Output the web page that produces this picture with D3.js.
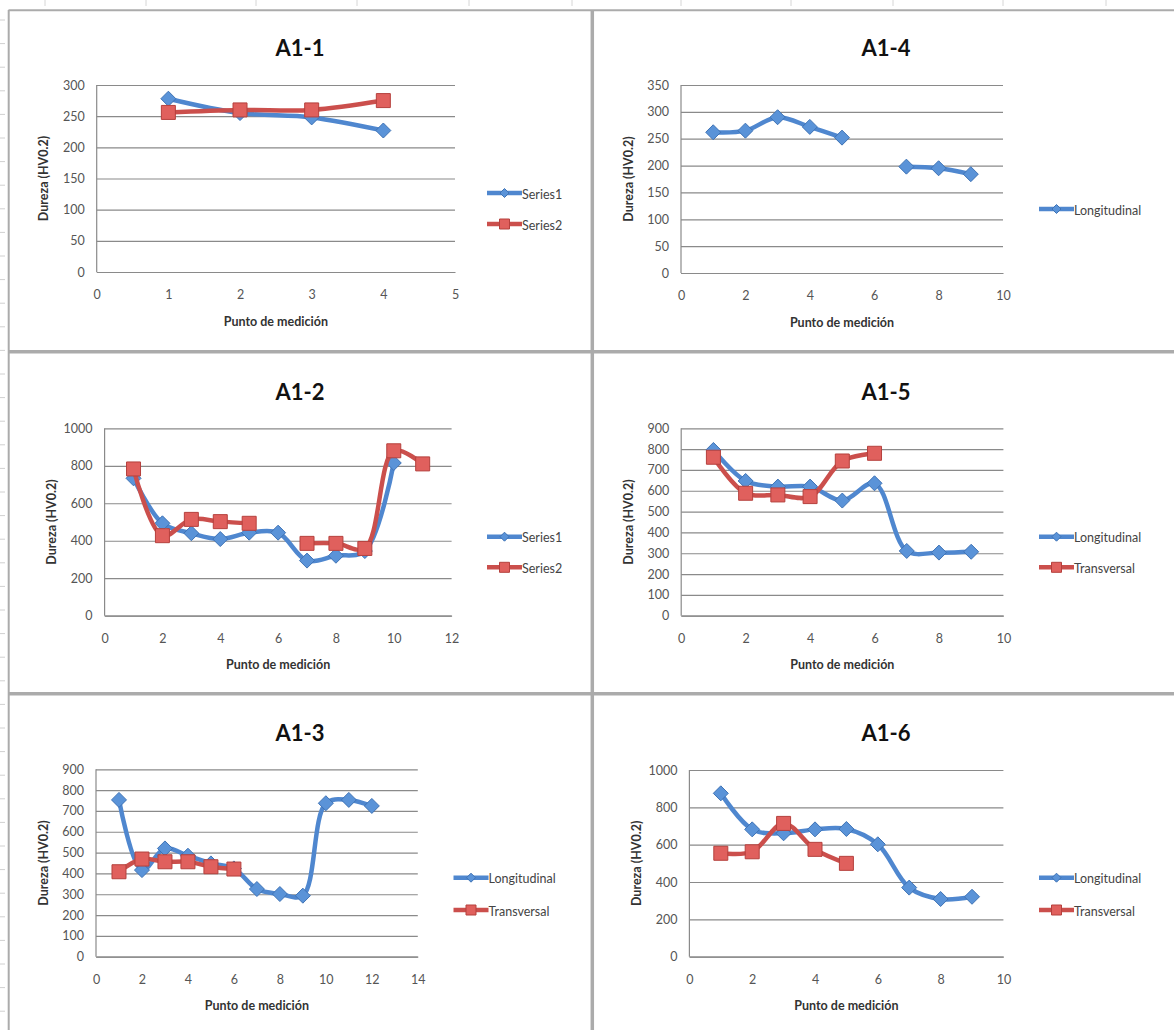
<!DOCTYPE html>
<html>
<head>
<meta charset="utf-8">
<script src="https://cdn.jsdelivr.net/npm/d3@7"></script>
<style>
  html, body { margin: 0; padding: 0; background: #fff; }
  svg { display: block; font-family: Lato, "Open Sans", sans-serif; }
</style>
</head>
<body>
<svg id="chart" width="1174" height="1030"></svg>
<script>
// ---------------- DATA ----------------
const chartTitles = ["A1-1", "A1-4", "A1-2", "A1-5", "A1-3", "A1-6"];
const xAxisTitle = "Punto de medición";
const yAxisTitle = "Dureza (HV0.2)";
const namesSeries = ["Series1", "Series2"];
const namesDir = ["Longitudinal", "Transversal"];

const a11Points = [1, 2, 3, 4];
const a11Series1 = [278, 255, 248, 227];
const a11Series2 = [256, 260, 260, 275];

const a12Points = [1, 2, 3, 4, 5, 6, 7, 8, 9, 10, 11];
const a12Series1 = [733, 493, 440, 409, 443, 443, 294, 320, 345, 815, null];
const a12Series2 = [783, 427, 514, 502, 493, null, 386, 386, 359, 880, 810];

const a13Points = [1, 2, 3, 4, 5, 6, 7, 8, 9, 10, 11, 12];
const a13Longitudinal = [753, 416, 520, 485, 448, 424, 325, 301, 293, 737, 753, 724];
const a13Transversal = [408, 469, 456, 456, 432, 421];

const a14Points = [1, 2, 3, 4, 5, 6, 7, 8, 9];
const a14Longitudinal = [262, 265, 290, 272, 252, null, 198, 195, 184];

const a15Points = [1, 2, 3, 4, 5, 6, 7, 8, 9];
const a15Longitudinal = [796, 647, 620, 620, 553, 636, 311, 303, 307];
const a15Transversal = [761, 588, 580, 572, 743, 780];

const a16Points = [1, 2, 3, 4, 5, 6, 7, 8, 9];
const a16Longitudinal = [875, 682, 661, 682, 684, 602, 370, 309, 321];
const a16Transversal = [554, 562, 714, 575, 500];

// axis ranges / tick steps
const xMaxes = [5, 10, 12, 10, 14, 10];
const xSteps = [1, 2, 2, 2, 2, 2];
const yMaxes = [300, 350, 1000, 900, 900, 1000];
const ySteps = [50, 50, 200, 100, 100, 200];

// ---------------- LAYOUT ----------------
const layouts = [
  { x0: 96.7, x1: 455, yTop: 85, yBot: 272, titleX: 300, titleY: 47, legX: 487, legY: [193, 224] },
  { x0: 681, x1: 1003, yTop: 85, yBot: 273, titleX: 886, titleY: 47, legX: 1039, legY: [209] },
  { x0: 104.6, x1: 451.6, yTop: 428.3, yBot: 615.7, titleX: 300, titleY: 391.7, legX: 487, legY: [536.7, 567.3] },
  { x0: 681.2, x1: 1003.4, yTop: 428.3, yBot: 615.7, titleX: 886, titleY: 391.7, legX: 1039, legY: [536.7, 567.3] },
  { x0: 96, x1: 417.8, yTop: 769.3, yBot: 956.7, titleX: 300, titleY: 732.7, legX: 453.5, legY: [877.7, 910] },
  { x0: 689.4, x1: 1003.4, yTop: 770, yBot: 956.7, titleX: 886, titleY: 732.7, legX: 1039, legY: [877.7, 910] }
];

const panels = [
  { points: a11Points, series: [a11Series1, a11Series2], names: namesSeries },
  { points: a14Points, series: [a14Longitudinal], names: [namesDir[0]] },
  { points: a12Points, series: [a12Series1, a12Series2], names: namesSeries },
  { points: a15Points, series: [a15Longitudinal, a15Transversal], names: namesDir },
  { points: a13Points, series: [a13Longitudinal, a13Transversal], names: namesDir },
  { points: a16Points, series: [a16Longitudinal, a16Transversal], names: namesDir }
];

const styles = [
  { line: "#4F87CF", fill: "#5A93D8", stroke: "#3F73B5", marker: "diamond", r: 7.5, lr: 4.5 },
  { line: "#CB4F4C", fill: "#E0605D", stroke: "#B5403D", marker: "square", r: 7, lr: 5 }
];

const svg = d3.select("#chart");

// ---------------- SHEET BACKGROUND / FRAMES ----------------
const frame = svg.append("g");
const frameColor = "#ababab";
d3.range(20, 1030, 23.6).forEach(y => {
  frame.append("line").attr("x1", 0).attr("x2", 5).attr("y1", y).attr("y2", y)
    .attr("stroke", "#d0d0d0").attr("stroke-width", 1);
});
[45, 146, 256, 357, 469, 572, 681, 791, 893, 1003, 1106].forEach(x => {
  frame.append("line").attr("x1", x).attr("x2", x).attr("y1", 0).attr("y2", 6)
    .attr("stroke", "#d6d6d6").attr("stroke-width", 1);
});
frame.append("line").attr("x1", 8.5).attr("x2", 1174).attr("y1", 10.3).attr("y2", 10.3)
  .attr("stroke", frameColor).attr("stroke-width", 2);
frame.append("line").attr("x1", 8.7).attr("x2", 8.7).attr("y1", 10).attr("y2", 1030)
  .attr("stroke", frameColor).attr("stroke-width", 2);
frame.append("line").attr("x1", 592.3).attr("x2", 592.3).attr("y1", 10).attr("y2", 1030)
  .attr("stroke", frameColor).attr("stroke-width", 3.5);
[351.7, 693.7].forEach(y => {
  frame.append("line").attr("x1", 8).attr("x2", 1174).attr("y1", y).attr("y2", y)
    .attr("stroke", frameColor).attr("stroke-width", 3.5);
});

// ---------------- MARKERS ----------------
function markerPath(type, cx, cy, r) {
  if (type === "diamond") {
    return `M${cx},${cy - r}L${cx + r},${cy}L${cx},${cy + r}L${cx - r},${cy}Z`;
  }
  return `M${cx - r},${cy - r}L${cx + r},${cy - r}L${cx + r},${cy + r}L${cx - r},${cy + r}Z`;
}

const fmt = d3.format("d");

// ---------------- PANELS ----------------
panels.forEach((p, i) => {
  const L = layouts[i];
  const g = svg.append("g");
  const x = d3.scaleLinear().domain([0, xMaxes[i]]).range([L.x0, L.x1]);
  const y = d3.scaleLinear().domain([0, yMaxes[i]]).range([L.yBot, L.yTop]);
  const yTicks = d3.range(0, yMaxes[i] + 0.001, ySteps[i]);
  const xTicks = d3.range(0, xMaxes[i] + 0.001, xSteps[i]);

  const yAxis = d3.axisLeft(y).tickValues(yTicks).tickFormat(fmt)
    .tickSize(-(L.x1 - L.x0)).tickPadding(12);
  const ga = g.append("g").attr("transform", `translate(${L.x0},0)`).call(yAxis);
  ga.select(".domain").remove();
  ga.selectAll(".tick line").attr("stroke", "#8a8a8a").attr("stroke-width", 1.2);
  ga.selectAll(".tick text").attr("fill", "#555").attr("font-size", 12.5)
    .attr("font-family", "Lato, sans-serif");
  g.append("line").attr("x1", L.x0).attr("x2", L.x0).attr("y1", L.yTop).attr("y2", L.yBot)
    .attr("stroke", "#8a8a8a").attr("stroke-width", 1.2);

  const xAxis = d3.axisBottom(x).tickValues(xTicks).tickFormat(fmt).tickSize(0).tickPadding(18);
  const gx = g.append("g").attr("transform", `translate(0,${L.yBot})`).call(xAxis);
  gx.select(".domain").attr("stroke", "#8a8a8a").attr("stroke-width", 1.2);
  gx.selectAll(".tick text").attr("fill", "#555").attr("font-size", 12.5)
    .attr("font-family", "Lato, sans-serif");

  g.append("text").attr("x", L.titleX).attr("y", L.titleY).attr("text-anchor", "middle")
    .attr("dominant-baseline", "central").attr("font-weight", "bold").attr("font-size", 22)
    .attr("fill", "#111").text(chartTitles[i]);
  g.append("text").attr("x", (L.x0 + L.x1) / 2).attr("y", L.yBot + 49).attr("text-anchor", "middle")
    .attr("dominant-baseline", "central").attr("font-weight", "bold").attr("font-size", 12.5)
    .attr("fill", "#333").text(xAxisTitle);
  g.append("text")
    .attr("transform", `translate(${L.x0 - 53},${(L.yTop + L.yBot) / 2}) rotate(-90)`)
    .attr("text-anchor", "middle").attr("dominant-baseline", "central")
    .attr("font-weight", "bold").attr("font-size", 12.5).attr("fill", "#333").text(yAxisTitle);

  p.series.forEach((vals, si) => {
    const st = styles[si];
    const pts = vals.map((v, k) => ({ xv: p.points[k], yv: v }));
    const line = d3.line()
      .defined(d => d.yv !== null && d.yv !== undefined)
      .x(d => x(d.xv)).y(d => y(d.yv))
      .curve(d3.curveCatmullRom.alpha(0.5));
    g.append("path").datum(pts).attr("d", line).attr("fill", "none")
      .attr("stroke", st.line).attr("stroke-width", 4.5)
      .attr("stroke-linejoin", "round").attr("stroke-linecap", "round");
    g.selectAll(null).data(pts.filter(d => d.yv !== null && d.yv !== undefined)).enter()
      .append("path")
      .attr("d", d => markerPath(st.marker, x(d.xv), y(d.yv), st.r))
      .attr("fill", st.fill).attr("stroke", st.stroke).attr("stroke-width", 1);

    const ly = L.legY[si];
    g.append("line").attr("x1", L.legX).attr("x2", L.legX + 35).attr("y1", ly).attr("y2", ly)
      .attr("stroke", st.line).attr("stroke-width", 4.5);
    g.append("path").attr("d", markerPath(st.marker, L.legX + 17.5, ly, st.lr))
      .attr("fill", st.fill).attr("stroke", st.stroke).attr("stroke-width", 1);
    g.append("text").attr("x", L.legX + 35).attr("y", ly + 1).attr("dominant-baseline", "central")
      .attr("font-size", 12.5).attr("fill", "#444").text(p.names[si]);
  });
});
</script>
</body>
</html>
